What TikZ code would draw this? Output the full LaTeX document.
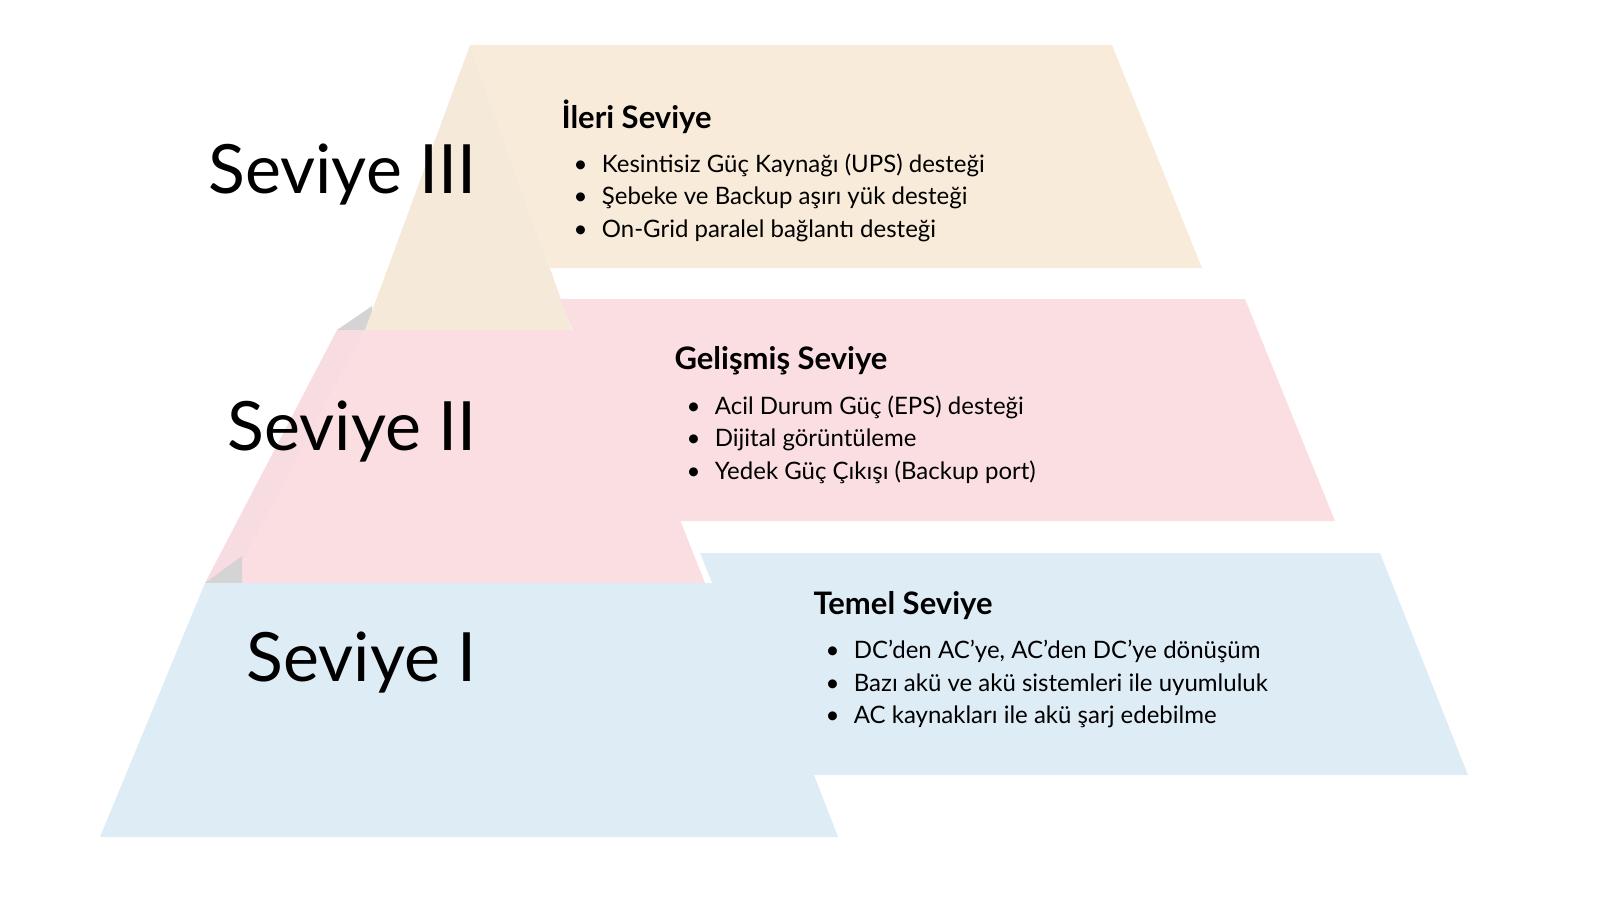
\documentclass[tikz,border=0pt]{standalone}
\usepackage{fontspec}
\setmainfont{Lato}
\definecolor{tierA}{HTML}{F8EBDA}
\definecolor{tierB}{HTML}{FADEE2}
\definecolor{tierC}{HTML}{DEECF6}
\definecolor{sidegray}{HTML}{D6D3D4}
\tikzset{
  level/.style={anchor=east,font=\fontsize{68}{72}\selectfont},
  head/.style={anchor=west,font=\fontsize{31}{34}\selectfont\bfseries},
  item/.style={anchor=north west,font=\fontsize{24}{32.5}\selectfont,align=left}
}
\newcommand{\bul}{\textbullet\hspace{0.6em}}
\begin{document}
\begin{tikzpicture}[x=1pt,y=-1pt]
  \useasboundingbox (0,0) rectangle (1600,900);
  % bands behind the pyramid
  \fill[tierA] (470,45) -- (1112,45) -- (1202,268) -- (550,268) -- cycle;
  \fill[tierB] (560,299) -- (1245,299) -- (1335,521) -- (650,521) -- cycle;
  \fill[tierC] (700,553) -- (1380,553) -- (1468,775) -- (790,775) -- cycle;
  % pyramid
  \fill[sidegray] (337,330) -- (372,306) -- (372,330) -- cycle;
  \fill[tierA!90!sidegray] (470,45) -- (572,330) -- (365,330) -- cycle;
  \fill[tierB] (365,330) -- (605,330) -- (705,583) -- (232,583) -- cycle;
  \fill[tierB!92!sidegray] (337,330) -- (365,330) -- (232,583) -- (205,583) -- cycle;
  \fill[sidegray] (205,583) -- (242,556) -- (242,583) -- cycle;
  \fill[tierC] (205,583) -- (740,583) -- (838,837) -- (100,837) -- cycle;
  % texts
  \node[level] (l3) at (480,175) {Seviye III};
  \node[level] (l2) at (480,432) {Seviye II};
  \node[level] (l1) at (480,663) {Seviye I};
  \node[head] (h3) at (558,117) {İleri Seviye};
  \node[item] (i3) at (570,150) {\bul Kesintisiz Güç Kaynağı (UPS) desteği\\
    \bul Şebeke ve Backup aşırı yük desteği\\ \bul On-Grid paralel bağlantı desteği};
  \node[head] (h2) at (671,361) {Gelişmiş Seviye};
  \node[item] (i2) at (683,392) {\bul Acil Durum Güç (EPS) desteği\\
    \bul Dijital görüntüleme\\ \bul Yedek Güç Çıkışı (Backup port)};
  \node[head] (h1) at (810,606) {Temel Seviye};
  \node[item] (i1) at (822,637) {\bul DC’den AC’ye, AC’den DC’ye dönüşüm\\
    \bul Bazı akü ve akü sistemleri ile uyumluluk\\ \bul AC kaynakları ile akü şarj edebilme};
\end{tikzpicture}
\end{document}
